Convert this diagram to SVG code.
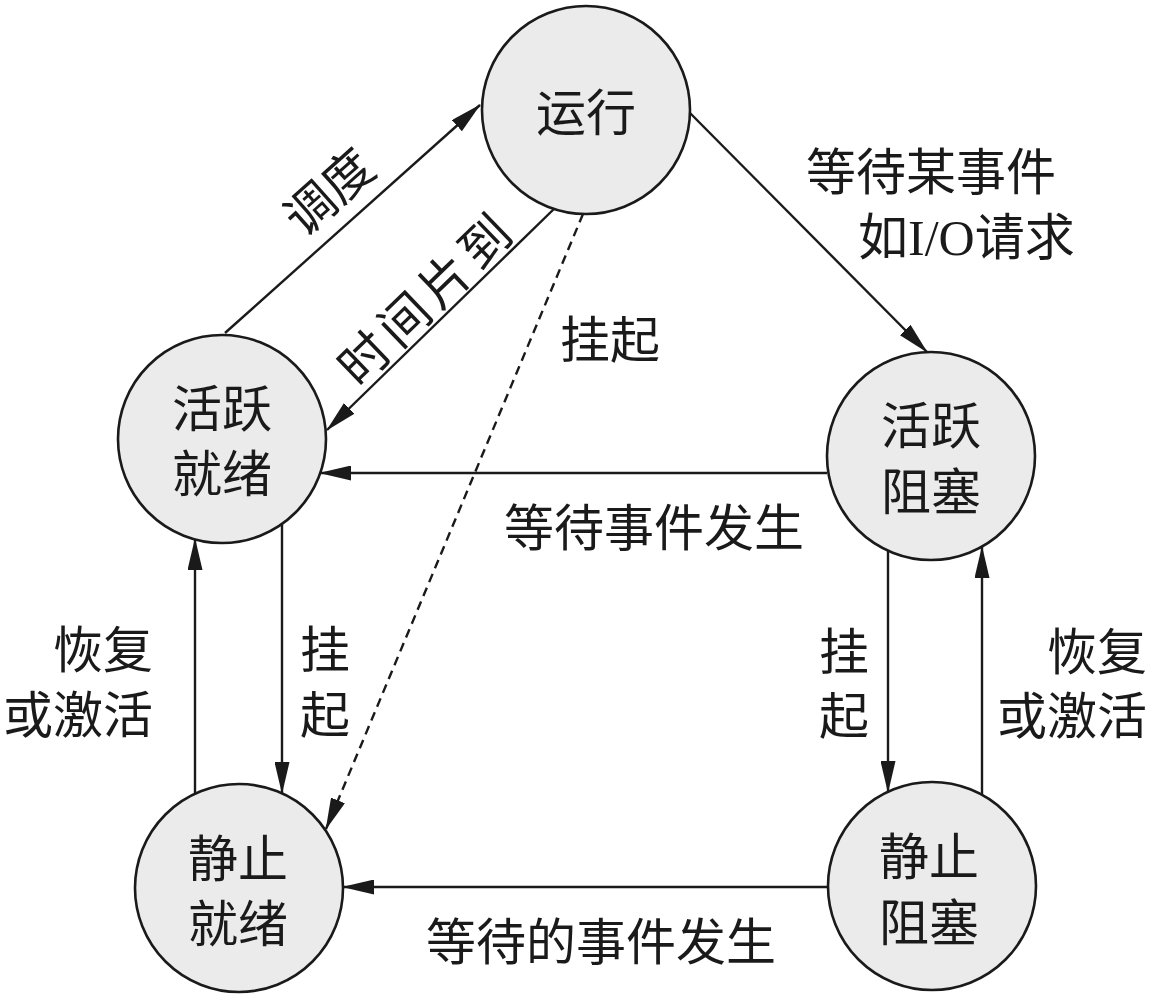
<svg xmlns="http://www.w3.org/2000/svg" width="1149" height="998" viewBox="0 0 1149 998">
<style>
.node circle { fill:#ebebeb; stroke:#1a1a1a; stroke-width:2.6; }
text { font-family:"Liberation Serif","Noto Sans CJK SC",serif; font-size:50px; fill:#1a1a1a; }
.c { text-anchor:middle; }
.r { text-anchor:end; }
.edge { stroke:#1a1a1a; stroke-width:2.4; fill:none; marker-end:url(#arr); }
.dash { stroke-dasharray:9 6; }
</style>
<defs>
<marker id="arr" markerUnits="userSpaceOnUse" markerWidth="32" markerHeight="15" viewBox="0 0 32 15" refX="31" refY="7.5" orient="auto">
<path d="M0,0 L32,7.5 L0,15 z" fill="#1a1a1a"/>
</marker>
</defs>
<rect width="1149" height="998" fill="#ffffff"/>

<g id="connectors">
<line class="edge" x1="225" y1="333" x2="480" y2="105"/>
<line class="edge" x1="556" y1="207" x2="327" y2="430"/>
<line class="edge dash" x1="583" y1="214" x2="326" y2="829"/>
<line class="edge" x1="690" y1="113" x2="927" y2="352"/>
<line class="edge" x1="827" y1="473" x2="320" y2="473"/>
<line class="edge" x1="827" y1="887" x2="343" y2="887"/>
<line class="edge" x1="282" y1="524" x2="282" y2="793"/>
<line class="edge" x1="195" y1="794" x2="195" y2="539"/>
<line class="edge" x1="888" y1="551" x2="888" y2="792"/>
<line class="edge" x1="982" y1="795" x2="982" y2="547"/>

<text class="c" transform="translate(329,192) rotate(-41.8)" y="18">调度</text>
<text class="c" transform="translate(427,298) rotate(-44)" y="18" letter-spacing="6">时间片到</text>
<text x="560" y="358">挂起</text>
<text x="806" y="190">等待某事件</text>
<text x="858" y="255">如I/O请求</text>
<text class="c" x="654" y="546">等待事件发生</text>
<text class="c" x="601" y="960">等待的事件发生</text>
<text class="r" x="153" y="668">恢复</text>
<text class="r" x="153" y="733">或激活</text>
<text class="c" x="325" y="668">挂</text>
<text class="c" x="325" y="733">起</text>
<text class="c" x="844" y="670">挂</text>
<text class="c" x="844" y="734">起</text>
<text class="r" x="1147" y="670">恢复</text>
<text class="r" x="1147" y="734">或激活</text>
</g>

<g id="n-running" class="node">
<circle cx="586" cy="110" r="104"/>
<text class="c" x="586" y="131">运行</text>
</g>
<g id="n-active-ready" class="node">
<circle cx="222" cy="439" r="104"/>
<text class="c" x="222" y="427">活跃</text>
<text class="c" x="222" y="492">就绪</text>
</g>
<g id="n-active-blocked" class="node">
<circle cx="931" cy="456" r="104"/>
<text class="c" x="931" y="444">活跃</text>
<text class="c" x="931" y="510">阻塞</text>
</g>
<g id="n-static-ready" class="node">
<circle cx="239" cy="888" r="104"/>
<text class="c" x="238" y="877">静止</text>
<text class="c" x="238" y="942">就绪</text>
</g>
<g id="n-static-blocked" class="node">
<circle cx="932" cy="886" r="104"/>
<text class="c" x="929" y="875">静止</text>
<text class="c" x="929" y="941">阻塞</text>
</g>
</svg>
